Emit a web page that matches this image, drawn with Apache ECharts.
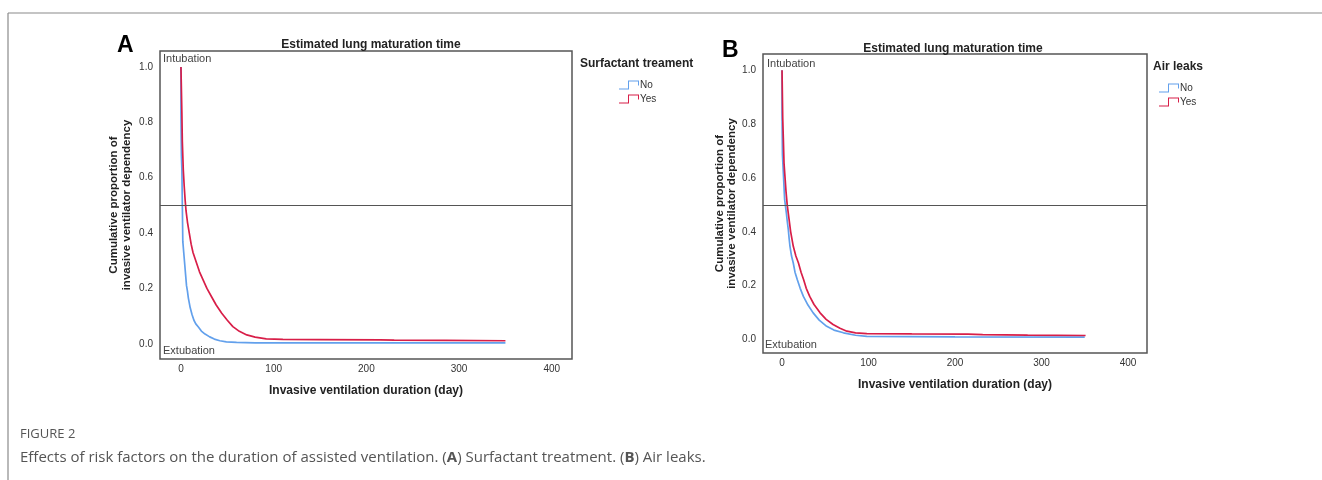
<!DOCTYPE html>
<html>
<head>
<meta charset="utf-8">
<script src="https://cdn.jsdelivr.net/npm/echarts@6/dist/echarts.min.js"></script>
<style>html,body{margin:0;padding:0;background:#fff;}#chart{width:1322px;height:480px;}</style>
</head>
<body>
<div id="chart"></div>
<script>
// ---- Data ----
const xTicks = [0, 100, 200, 300, 400];
const yTicks = [0, 0.2, 0.4, 0.6, 0.8, 1.0];
const groupNames = ['No', 'Yes'];

// Panel A: Surfactant treatment
const A_no_t  = [0, 0, 0.5, 1, 1.5, 2, 3, 4, 5, 6, 7, 8, 10, 12, 14, 16, 19, 22, 26, 31, 36, 42, 49, 60, 80, 350];
const A_no_s  = [1.0, 0.83, 0.68, 0.63, 0.50, 0.37, 0.33, 0.29, 0.25, 0.21, 0.19, 0.165, 0.13, 0.105, 0.085, 0.072, 0.06, 0.046, 0.035, 0.025, 0.017, 0.011, 0.007, 0.005, 0.003, 0.003];
const A_yes_t = [0, 1, 1.5, 2.5, 3.5, 4.5, 5.5, 7, 9, 11, 13, 15, 17, 20, 24, 28, 33, 38, 44, 50, 56, 63, 71, 80, 92, 110, 150, 215, 230, 285, 350];
const A_yes_s = [1.0, 0.833, 0.73, 0.63, 0.57, 0.52, 0.48, 0.44, 0.40, 0.36, 0.33, 0.31, 0.29, 0.26, 0.23, 0.20, 0.17, 0.14, 0.11, 0.085, 0.062, 0.045, 0.032, 0.024, 0.018, 0.016, 0.015, 0.014, 0.013, 0.012, 0.011];

// Panel B: Air leaks
const B_no_t  = [0, 0, 0.5, 1.9, 3, 5, 6, 7.3, 8.2, 9.2, 11, 13, 15, 17.7, 21, 24.7, 30, 36, 43, 51.6, 60, 71, 85, 98, 200, 350];
const B_no_s  = [1.0, 0.84, 0.685, 0.593, 0.52, 0.47, 0.44, 0.407, 0.375, 0.346, 0.31, 0.284, 0.25, 0.222, 0.19, 0.16, 0.128, 0.099, 0.072, 0.049, 0.035, 0.025, 0.016, 0.012, 0.010, 0.009];
const B_yes_t = [0, 0.8, 1.5, 2.3, 3.5, 4.6, 6, 8, 10, 13, 16, 19, 22, 25, 28, 32, 37, 44, 51, 59, 67, 75, 85, 98, 150, 215, 232, 284, 351];
const B_yes_s = [1.0, 0.822, 0.748, 0.655, 0.60, 0.55, 0.50, 0.45, 0.40, 0.346, 0.31, 0.284, 0.25, 0.222, 0.19, 0.16, 0.13, 0.099, 0.075, 0.056, 0.042, 0.031, 0.025, 0.022, 0.021, 0.020, 0.018, 0.016, 0.015];

const refLine = 0.5;

// ---- Chart ----
const pair = (t, s) => t.map((v, i) => [v, s[i]]);
const BLUE = '#62a0ec', RED = '#d81e48';
const FONT = '"Liberation Sans", Arial, sans-serif';
const stepIcon = 'path://M0,8 L9,8 L9,0 L20,0 L20,5 L19,5 L19,1 L10,1 L10,9 L0,9 Z';

const chart = echarts.init(document.getElementById('chart'), null, {renderer: 'canvas'});

function xAxis(grid, min, max) {
  return {
    type: 'value', gridIndex: grid, min: min, max: max,
    name: 'Invasive ventilation duration (day)', nameLocation: 'middle', nameGap: 26,
    nameTextStyle: {fontFamily: FONT, fontWeight: 'bold', fontSize: 12, color: '#222'},
    axisLine: {show: false}, axisTick: {show: false}, splitLine: {show: false},
    axisLabel: {customValues: xTicks, fontFamily: FONT, fontSize: 10, color: '#333', margin: 5}
  };
}
function yAxis(grid, min, max, gap) {
  return {
    type: 'value', gridIndex: grid, min: min, max: max,
    name: 'Cumulative proportion of\ninvasive ventilator dependency', nameLocation: 'middle', nameGap: gap,
    nameTextStyle: {fontFamily: FONT, fontWeight: 'bold', fontSize: 11.5, color: '#222', lineHeight: 12.5},
    axisLine: {show: false}, axisTick: {show: false}, splitLine: {show: false},
    axisLabel: {customValues: yTicks, formatter: v => v.toFixed(1), fontFamily: FONT, fontSize: 10, color: '#333', margin: 7}
  };
}
function line(name, idx, data, color, withRef) {
  const s = {
    type: 'line', name: name, xAxisIndex: idx, yAxisIndex: idx, data: data,
    showSymbol: false, symbol: 'none', lineStyle: {color: color, width: 1.7}, itemStyle: {color: color},
    silent: true
  };
  if (withRef) {
    s.markLine = {silent: true, symbol: 'none', label: {show: false},
      lineStyle: {color: '#555', width: 1.2, type: 'solid'}, data: [{yAxis: refLine}]};
  }
  return s;
}
function legend(left, top) {
  return {
    left: left, top: top, orient: 'vertical', itemGap: 4, itemWidth: 20, itemHeight: 9,
    icon: stepIcon, data: groupNames, selectedMode: false,
    textStyle: {fontFamily: FONT, fontSize: 10, color: '#333', padding: [0, 0, 0, -4]}
  };
}
const titleStyle = {fontFamily: FONT, fontWeight: 'bold', fontSize: 12, color: '#222'};

const option = {
  animation: false,
  backgroundColor: '#fff',
  title: [
    {text: 'Estimated lung maturation time', left: 366, top: 34, textAlign: 'center', textStyle: titleStyle},
    {text: 'Estimated lung maturation time', left: 948, top: 38, textAlign: 'center', textStyle: titleStyle},
    {text: 'Surfactant treament', left: 575, top: 53, textStyle: titleStyle},
    {text: 'Air leaks', left: 1148, top: 56, textStyle: titleStyle},
    {text: 'A', left: 112, top: 29, textStyle: {fontFamily: FONT, fontWeight: 'bold', fontSize: 23, color: '#000'}},
    {text: 'B', left: 717, top: 34, textStyle: {fontFamily: FONT, fontWeight: 'bold', fontSize: 23, color: '#000'}}
  ],
  legend: [legend(614, 75), legend(1154, 78)],
  grid: [
    {left: 160, top: 51, width: 412, height: 308, show: true, borderColor: '#555', borderWidth: 1.5, backgroundColor: 'transparent'},
    {left: 763, top: 54, width: 384, height: 299, show: true, borderColor: '#555', borderWidth: 1.5, backgroundColor: 'transparent'}
  ],
  xAxis: [xAxis(0, -22.6, 421.8), xAxis(1, -22, 422)],
  yAxis: [yAxis(0, -0.055, 1.058, 27), yAxis(1, -0.05, 1.06, 24)],
  series: [
    line(groupNames[0], 0, pair(A_no_t, A_no_s), BLUE, true),
    line(groupNames[1], 0, pair(A_yes_t, A_yes_s), RED, false),
    line(groupNames[0], 1, pair(B_no_t, B_no_s), BLUE, true),
    line(groupNames[1], 1, pair(B_yes_t, B_yes_s), RED, false)
  ],
  graphic: [
    {type: 'line', shape: {x1: 8, y1: 13, x2: 1322, y2: 13}, style: {stroke: '#8a8a8a', lineWidth: 1.2}},
    {type: 'line', shape: {x1: 8, y1: 13, x2: 8, y2: 480}, style: {stroke: '#8a8a8a', lineWidth: 1.2}},
    {type: 'text', left: 163, top: 53, style: {text: 'Intubation', font: '11px ' + FONT, fill: '#444'}},
    {type: 'text', left: 163, top: 345, style: {text: 'Extubation', font: '11px ' + FONT, fill: '#444'}},
    {type: 'text', left: 767, top: 58, style: {text: 'Intubation', font: '11px ' + FONT, fill: '#444'}},
    {type: 'text', left: 765, top: 339, style: {text: 'Extubation', font: '11px ' + FONT, fill: '#444'}},
    {type: 'text', left: 20, top: 428, style: {text: 'FIGURE 2', font: '13px "Open Sans", sans-serif', fill: '#555'}},
    {type: 'text', left: 20, top: 450, style: {
      text: 'Effects of risk factors on the duration of assisted ventilation. ({b|A}) Surfactant treatment. ({b|B}) Air leaks.',
      font: '15px "Open Sans", sans-serif', fill: '#555',
      rich: {b: {fontFamily: '"Open Sans", sans-serif', fontSize: 15, fontWeight: 'bold', fill: '#555'}}
    }}
  ]
};
chart.setOption(option);
</script>
</body>
</html>
